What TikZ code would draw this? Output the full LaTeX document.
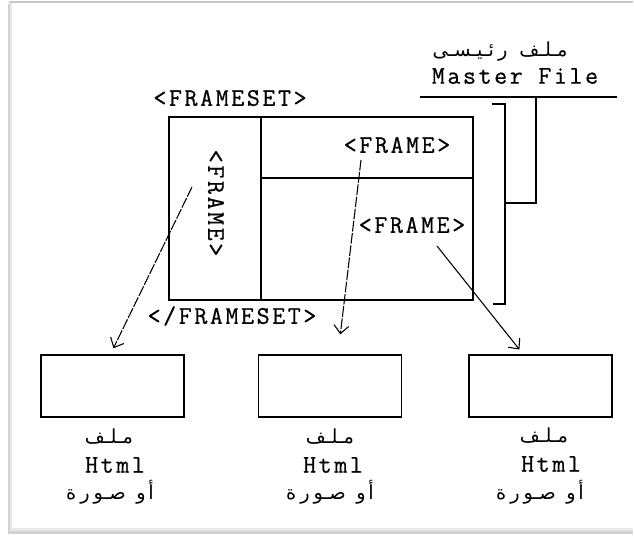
\documentclass[tikz,border=0pt]{standalone}
\usepackage{fontspec}
\newfontfamily\monofnt{Latin Modern Mono}[LetterSpace=10, FakeBold=0.6]
\newfontfamily\arabicfont[Script=Arabic]{DejaVu Sans}
\TeXXeTstate=1
\usetikzlibrary{arrows.meta}

\begin{document}
\begin{tikzpicture}[x=0.75pt,y=-0.75pt,
        lbl/.style={font=\monofnt\fontsize{19}{22}\selectfont, inner sep=0pt},
        arab/.style={font=\arabicfont\fontsize{14.5}{17}\selectfont, inner sep=0pt},
        filebox/.style={draw, line width=1.2pt, minimum width=107pt, minimum height=46.5pt, inner sep=0pt},
        ptr/.style={line width=0.8pt, -{Straight Barb[length=6pt,width=11pt]}}]%
        \useasboundingbox (0,0) rectangle (634,540);
        \fill[gray!35] (8,4) rectangle (633,534);
        \fill[gray!18] (10,3) rectangle (633,531);
        \fill[white] (12,3) rectangle (633,528);
        \draw[gray!45, line width=0.8pt] (9,2) -- (633,2);
        \node[arab] (masterAr) at (500,52) {\beginR مـلـف\kern9pt ر\kern3pt ئـيـسـى\endR};
        \node[lbl] (masterEn) at (515,76) {Master File};
        \coordinate (mL) at (420,97);
        \coordinate (mR) at (617,97);
        \coordinate (mJ) at (536,97);
        \draw[line width=1pt] (mL) -- (mR);
        \draw[line width=1pt] (mJ) |- (505,203);
        \draw[line width=1pt] (492,104) -| (505,304) -- (493,304);
        \draw[line width=1.2pt] (169,117) rectangle (473,300);
        \draw[line width=1.2pt] (261,117) -- (261,300);
        \draw[line width=1.2pt] (261,178) -- (473,178);
        \node[lbl] (fsOpen) at (230,98) {<FRAMESET>};
        \node[lbl] (fsClose) at (232,316) {</FRAMESET>};
        \node[lbl, rotate=-90] (frameLeft) at (216,203) {<FRAME>};
        \node[lbl] (frameTop) at (397,145) {<FRAME>};
        \node[lbl] (frameLow) at (412,225) {<FRAME>};
        \node[filebox] (fileA) at (112.5,386) {};
        \node[filebox] (fileB) at (330,386) {};
        \node[filebox] (fileC) at (540.5,386) {};
        \node[arab] (nameA) at (109,437) {\beginR مـلـف\endR};
        \node[arab] (nameB) at (330,437) {\beginR مـلـف\endR};
        \node[arab] (nameC) at (544,436) {\beginR مـلـف\endR};
        \node[lbl] (htmlA) at (115,465) {Html};
        \node[lbl] (htmlB) at (333,465) {Html};
        \node[lbl] (htmlC) at (551,464) {Html};
        \node[arab] (orA) at (110,492) {\beginR أ\kern2pt و\kern8pt صـو\kern3pt ر\kern3pt ة\endR};
        \node[arab] (orB) at (330,492) {\beginR أ\kern2pt و\kern8pt صـو\kern3pt ر\kern3pt ة\endR};
        \node[arab] (orC) at (540,492) {\beginR أ\kern2pt و\kern8pt صـو\kern3pt ر\kern3pt ة\endR};
        \coordinate (fromL) at (192,187);
        \coordinate (fromT) at (361,160);
        \coordinate (fromR) at (437,246);
        \draw[ptr, dash pattern=on 8pt off 1.2pt, shorten >=5pt] (fromL) -- ([xshift=-1.5pt]fileA.north);
        \draw[ptr, dash pattern=on 8pt off 1.2pt, shorten >=15pt] (fromT) -- ([xshift=6pt]fileB.north);
        \draw[ptr, shorten >=4.5pt] (fromR) -- ([xshift=-13pt]fileC.north);
    \end{tikzpicture}
\end{document}
